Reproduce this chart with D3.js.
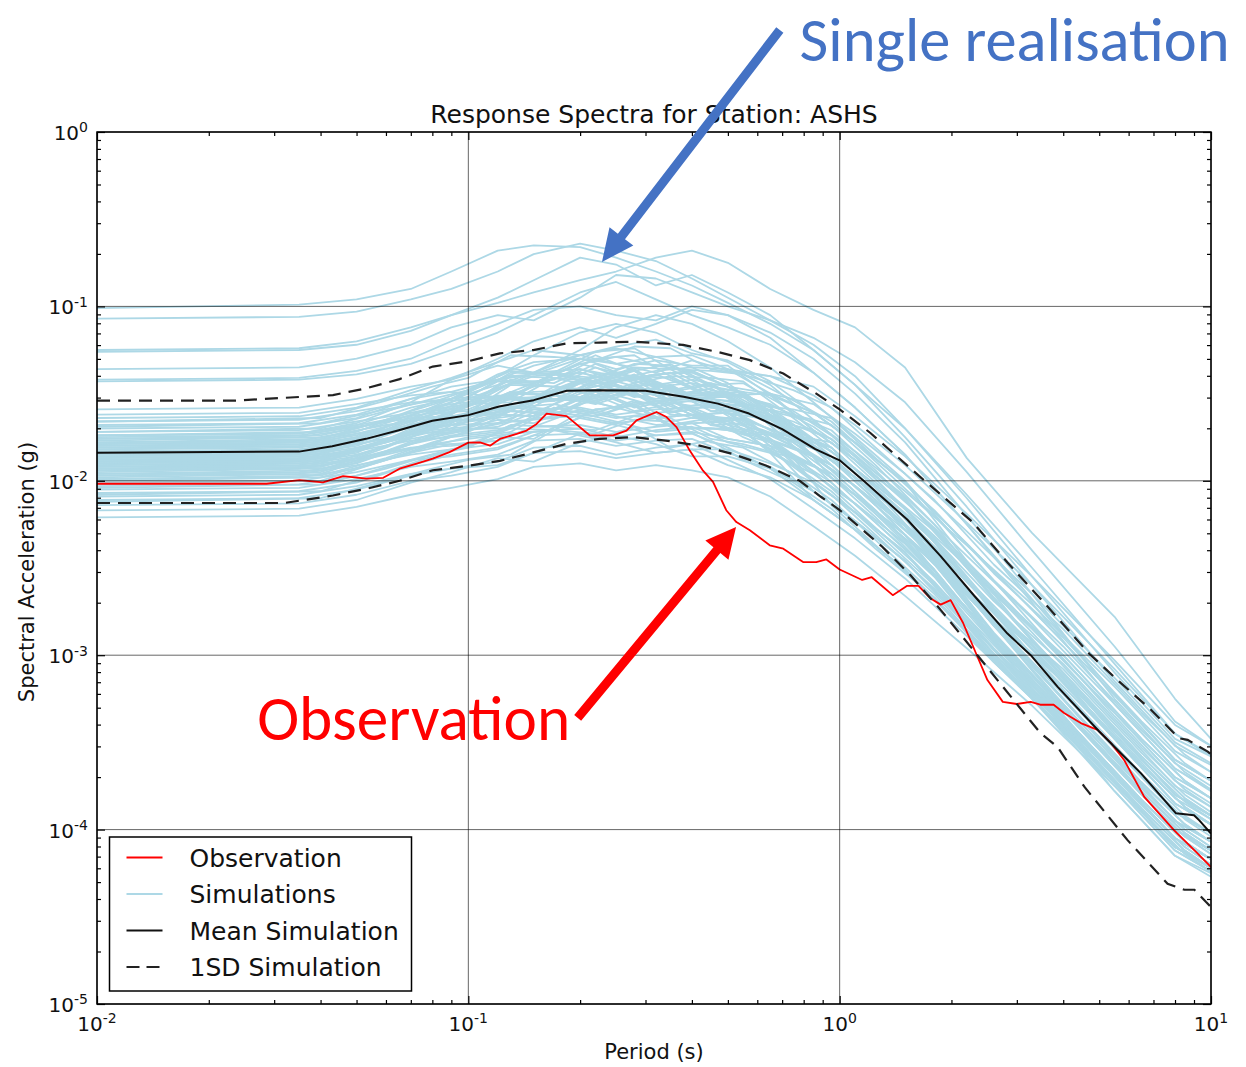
<!DOCTYPE html>
<html>
<head>
<meta charset="utf-8">
<script src="https://cdn.jsdelivr.net/npm/d3@7"></script>
<style>
  body { margin: 0; background: #fff; }
  svg { display: block; }
</style>
</head>
<body>
<div id="chart"></div>
<script>
// ---- data ----
// periods (s) for the first batch of simulation traces
const simPeriods = [0.01, 0.035, 0.05, 0.07, 0.09, 0.12, 0.15, 0.2, 0.25, 0.32, 0.4, 0.5, 0.65, 0.85, 1.1, 1.5, 2.2, 3.3, 5.5, 8, 10];

// simulated spectra, log10 of SA (g), one row per realisation
const simulationsLog10 = [
  [-1.01,-0.99,-0.96,-0.90,-0.80,-0.68,-0.65,-0.66,-0.72,-0.80,-0.88,-0.98,-1.10,-1.25,-1.45,-1.75,-2.15,-2.60,-3.15,-3.52,-3.63],
  [-1.07,-1.06,-1.03,-0.96,-0.90,-0.80,-0.70,-0.64,-0.68,-0.74,-0.84,-0.95,-1.08,-1.22,-1.40,-1.70,-2.10,-2.55,-3.10,-3.48,-3.58],
  [-1.25,-1.24,-1.20,-1.12,-1.05,-0.98,-0.92,-0.85,-0.80,-0.72,-0.68,-0.75,-0.90,-1.02,-1.12,-1.35,-1.87,-2.30,-2.78,-3.25,-3.48],
  [-1.26,-1.25,-1.22,-1.14,-1.05,-0.95,-0.85,-0.72,-0.76,-0.88,-0.82,-0.92,-1.05,-1.25,-1.45,-1.70,-2.08,-2.50,-3.05,-3.45,-3.58],
  [-1.36,-1.35,-1.30,-1.22,-1.12,-1.05,-1.08,-0.95,-0.82,-0.84,-0.92,-1.00,-1.08,-1.18,-1.32,-1.55,-1.95,-2.40,-2.95,-3.38,-3.52],
  [-1.42,-1.41,-1.37,-1.30,-1.20,-1.10,-1.02,-1.00,-1.05,-1.08,-1.00,-1.05,-1.15,-1.30,-1.50,-1.78,-2.20,-2.65,-3.25,-3.62,-3.75],
  [-1.43,-1.42,-1.39,-1.33,-1.25,-1.15,-1.05,-0.92,-0.86,-0.96,-1.05,-1.12,-1.22,-1.38,-1.58,-1.85,-2.25,-2.70,-3.28,-3.65,-3.78],
  [-1.89,-1.88,-1.83,-1.72,-1.62,-1.48,-1.38,-1.25,-1.12,-1.05,-1.10,-1.20,-1.35,-1.55,-1.75,-2.00,-2.40,-2.82,-3.35,-3.72,-3.85],
  [-1.74,-1.73,-1.67,-1.55,-1.42,-1.30,-1.20,-1.12,-1.18,-1.10,-1.02,-1.05,-1.18,-1.38,-1.58,-1.85,-2.25,-2.68,-3.22,-3.60,-3.72],
  [-1.84,-1.83,-1.77,-1.65,-1.55,-1.40,-1.28,-1.15,-1.10,-1.15,-1.25,-1.32,-1.45,-1.65,-1.85,-2.10,-2.50,-2.92,-3.45,-3.82,-3.94],
  [-1.59,-1.58,-1.53,-1.46,-1.42,-1.34,-1.38,-1.28,-1.24,-1.29,-1.35,-1.36,-1.40,-1.51,-1.68,-1.91,-2.24,-2.60,-3.08,-3.45,-3.57],
  [-1.62,-1.61,-1.56,-1.51,-1.49,-1.52,-1.44,-1.33,-1.38,-1.45,-1.42,-1.46,-1.60,-1.81,-1.98,-2.21,-2.64,-3.09,-3.63,-4.00,-4.12],
  [-1.64,-1.63,-1.58,-1.48,-1.41,-1.32,-1.25,-1.28,-1.23,-1.19,-1.27,-1.31,-1.43,-1.61,-1.78,-2.01,-2.36,-2.74,-3.23,-3.60,-3.72],
  [-1.66,-1.65,-1.60,-1.55,-1.54,-1.52,-1.53,-1.43,-1.38,-1.44,-1.51,-1.51,-1.68,-1.91,-2.08,-2.31,-2.74,-3.19,-3.73,-4.10,-4.22],
  [-1.68,-1.67,-1.62,-1.53,-1.49,-1.42,-1.39,-1.30,-1.33,-1.38,-1.31,-1.37,-1.40,-1.46,-1.63,-1.86,-2.19,-2.55,-3.03,-3.40,-3.52],
  [-1.70,-1.69,-1.64,-1.53,-1.46,-1.42,-1.34,-1.28,-1.33,-1.29,-1.28,-1.36,-1.50,-1.71,-1.88,-2.11,-2.50,-2.91,-3.43,-3.80,-3.92],
  [-1.72,-1.71,-1.66,-1.61,-1.59,-1.53,-1.54,-1.52,-1.43,-1.49,-1.52,-1.60,-1.63,-1.76,-1.93,-2.16,-2.49,-2.85,-3.33,-3.70,-3.82],
  [-1.74,-1.73,-1.68,-1.58,-1.53,-1.45,-1.38,-1.36,-1.42,-1.37,-1.35,-1.44,-1.62,-1.86,-2.03,-2.26,-2.69,-3.14,-3.68,-4.05,-4.17],
  [-1.75,-1.74,-1.69,-1.64,-1.63,-1.62,-1.63,-1.53,-1.49,-1.54,-1.57,-1.56,-1.60,-1.66,-1.83,-2.06,-2.37,-2.71,-3.18,-3.55,-3.67],
  [-1.76,-1.75,-1.70,-1.61,-1.56,-1.53,-1.46,-1.36,-1.40,-1.46,-1.44,-1.48,-1.51,-1.61,-1.78,-2.01,-2.46,-2.92,-3.48,-3.85,-3.97],
  [-1.78,-1.77,-1.72,-1.60,-1.53,-1.42,-1.44,-1.33,-1.29,-1.34,-1.37,-1.46,-1.58,-1.81,-1.98,-2.21,-2.70,-3.20,-3.78,-4.15,-4.27],
  [-1.79,-1.78,-1.73,-1.69,-1.68,-1.67,-1.59,-1.58,-1.62,-1.59,-1.58,-1.66,-1.78,-1.96,-2.13,-2.36,-2.73,-3.12,-3.63,-4.00,-4.12],
  [-1.80,-1.79,-1.74,-1.65,-1.59,-1.52,-1.49,-1.48,-1.43,-1.39,-1.47,-1.51,-1.50,-1.56,-1.73,-1.96,-2.29,-2.65,-3.13,-3.50,-3.62],
  [-1.81,-1.80,-1.75,-1.64,-1.57,-1.43,-1.44,-1.38,-1.43,-1.39,-1.38,-1.46,-1.58,-1.76,-1.93,-2.16,-2.57,-3.00,-3.53,-3.90,-4.02],
  [-1.82,-1.81,-1.76,-1.68,-1.64,-1.59,-1.61,-1.50,-1.45,-1.51,-1.58,-1.58,-1.76,-2.01,-2.18,-2.41,-2.82,-3.25,-3.78,-4.15,-4.25],
  [-1.83,-1.82,-1.77,-1.63,-1.53,-1.39,-1.32,-1.30,-1.36,-1.31,-1.34,-1.34,-1.51,-1.71,-1.88,-2.11,-2.48,-2.87,-3.38,-3.75,-3.87],
  [-1.84,-1.83,-1.78,-1.69,-1.64,-1.61,-1.54,-1.43,-1.48,-1.53,-1.52,-1.52,-1.65,-1.81,-1.98,-2.21,-2.56,-2.94,-3.43,-3.80,-3.92],
  [-1.85,-1.84,-1.79,-1.73,-1.72,-1.69,-1.61,-1.60,-1.64,-1.61,-1.59,-1.68,-1.74,-1.86,-2.03,-2.26,-2.71,-3.17,-3.73,-4.10,-4.22],
  [-1.86,-1.85,-1.80,-1.69,-1.61,-1.51,-1.53,-1.42,-1.38,-1.43,-1.51,-1.50,-1.56,-1.69,-1.86,-2.09,-2.43,-2.79,-3.28,-3.65,-3.77],
  [-1.87,-1.86,-1.81,-1.73,-1.68,-1.62,-1.55,-1.53,-1.58,-1.54,-1.53,-1.61,-1.80,-2.06,-2.23,-2.46,-2.81,-3.19,-3.68,-4.05,-4.17],
  [-1.88,-1.87,-1.82,-1.71,-1.64,-1.59,-1.52,-1.42,-1.46,-1.51,-1.50,-1.49,-1.62,-1.76,-1.93,-2.16,-2.57,-3.00,-3.53,-3.90,-4.02],
  [-1.89,-1.88,-1.83,-1.77,-1.75,-1.72,-1.64,-1.63,-1.67,-1.64,-1.62,-1.71,-1.78,-1.91,-2.08,-2.31,-2.64,-3.00,-3.48,-3.85,-3.97],
  [-1.90,-1.89,-1.84,-1.70,-1.60,-1.47,-1.40,-1.38,-1.43,-1.39,-1.37,-1.46,-1.50,-1.61,-1.78,-2.01,-2.36,-2.74,-3.23,-3.60,-3.72],
  [-1.91,-1.90,-1.85,-1.76,-1.72,-1.65,-1.67,-1.56,-1.51,-1.57,-1.64,-1.64,-1.84,-2.11,-2.28,-2.51,-2.87,-3.25,-3.75,-4.12,-4.24],
  [-1.92,-1.91,-1.86,-1.75,-1.67,-1.53,-1.54,-1.53,-1.48,-1.44,-1.52,-1.56,-1.65,-1.81,-1.98,-2.21,-2.62,-3.05,-3.58,-3.95,-4.07],
  [-1.93,-1.92,-1.87,-1.81,-1.80,-1.77,-1.69,-1.68,-1.72,-1.69,-1.67,-1.76,-1.80,-1.91,-2.08,-2.31,-2.62,-2.96,-3.43,-3.80,-3.92],
  [-1.94,-1.93,-1.88,-1.79,-1.74,-1.71,-1.64,-1.53,-1.58,-1.64,-1.62,-1.61,-1.65,-1.71,-1.88,-2.11,-2.46,-2.84,-3.33,-3.70,-3.82],
  [-1.96,-1.95,-1.90,-1.79,-1.72,-1.62,-1.63,-1.53,-1.48,-1.54,-1.62,-1.61,-1.78,-2.01,-2.18,-2.41,-2.80,-3.21,-3.73,-4.10,-4.22],
  [-1.97,-1.96,-1.91,-1.85,-1.82,-1.79,-1.72,-1.70,-1.75,-1.71,-1.69,-1.78,-1.84,-1.96,-2.13,-2.36,-2.73,-3.12,-3.63,-4.00,-4.12],
  [-1.99,-1.98,-1.93,-1.84,-1.79,-1.77,-1.69,-1.59,-1.63,-1.68,-1.67,-1.66,-1.73,-1.81,-1.98,-2.21,-2.58,-2.97,-3.48,-3.85,-3.97],
  [-2.01,-2.00,-1.95,-1.88,-1.86,-1.82,-1.74,-1.73,-1.77,-1.74,-1.73,-1.81,-1.93,-2.11,-2.28,-2.51,-2.86,-3.24,-3.73,-4.10,-4.22],
  [-2.03,-2.02,-1.97,-1.88,-1.82,-1.75,-1.76,-1.61,-1.66,-1.72,-1.70,-1.70,-1.77,-1.86,-2.03,-2.26,-2.65,-3.06,-3.58,-3.95,-4.07],
  [-2.05,-2.04,-1.99,-1.92,-1.89,-1.85,-1.77,-1.76,-1.80,-1.77,-1.76,-1.84,-1.92,-2.06,-2.23,-2.46,-2.83,-3.22,-3.73,-4.10,-4.22],
  [-2.07,-2.06,-2.01,-1.91,-1.85,-1.81,-1.74,-1.64,-1.68,-1.74,-1.72,-1.76,-1.80,-1.91,-2.08,-2.31,-2.66,-3.04,-3.53,-3.90,-4.02],
  [-2.09,-2.08,-2.03,-1.96,-1.93,-1.89,-1.81,-1.80,-1.85,-1.81,-1.79,-1.88,-1.99,-2.16,-2.33,-2.56,-2.89,-3.25,-3.73,-4.10,-4.22],
  [-2.11,-2.10,-2.05,-1.97,-1.93,-1.91,-1.84,-1.73,-1.78,-1.84,-1.82,-1.82,-1.90,-2.01,-2.18,-2.41,-2.78,-3.17,-3.68,-4.05,-4.17],
  [-2.14,-2.13,-2.08,-2.00,-1.97,-1.92,-1.84,-1.83,-1.87,-1.84,-1.82,-1.91,-1.98,-2.11,-2.28,-2.51,-2.86,-3.24,-3.73,-4.10,-4.22],
  [-2.17,-2.16,-2.11,-2.01,-1.95,-1.87,-1.89,-1.78,-1.74,-1.79,-1.86,-1.86,-1.93,-2.06,-2.23,-2.46,-2.81,-3.19,-3.68,-4.05,-4.17],
  [-2.21,-2.20,-2.15,-2.08,-2.04,-1.99,-1.92,-1.90,-1.94,-1.91,-1.94,-1.98,-2.09,-2.26,-2.43,-2.66,-2.96,-3.29,-3.75,-4.12,-4.24]
];

// second batch of traces (core of the band), sampled at other periods
const simPeriods2 = [0.01, 0.04, 0.06, 0.08, 0.1, 0.13, 0.17, 0.22, 0.28, 0.35, 0.45, 0.55, 0.75, 0.95, 1.25, 1.8, 2.6, 4.0, 6.5, 8.5, 10];
const simulationsLog10b = [
  [-1.72,-1.70,-1.60,-1.53,-1.48,-1.37,-1.39,-1.28,-1.37,-1.33,-1.45,-1.44,-1.60,-1.74,-1.97,-2.27,-2.63,-3.00,-3.48,-3.72,-3.82],
  [-1.76,-1.74,-1.66,-1.59,-1.56,-1.55,-1.41,-1.46,-1.39,-1.51,-1.47,-1.58,-1.66,-1.76,-1.99,-2.33,-2.73,-3.15,-3.63,-3.87,-3.97],
  [-1.79,-1.77,-1.67,-1.58,-1.52,-1.38,-1.39,-1.41,-1.33,-1.34,-1.46,-1.49,-1.70,-1.91,-2.14,-2.48,-2.88,-3.30,-3.78,-4.02,-4.12],
  [-1.82,-1.80,-1.71,-1.65,-1.61,-1.58,-1.56,-1.44,-1.42,-1.54,-1.55,-1.57,-1.71,-1.81,-2.04,-2.33,-2.69,-3.05,-3.53,-3.77,-3.87],
  [-1.86,-1.84,-1.73,-1.64,-1.57,-1.44,-1.46,-1.35,-1.44,-1.40,-1.52,-1.51,-1.62,-1.71,-1.94,-2.28,-2.68,-3.10,-3.58,-3.82,-3.92],
  [-1.89,-1.87,-1.78,-1.70,-1.66,-1.63,-1.49,-1.54,-1.47,-1.59,-1.55,-1.66,-1.80,-1.96,-2.19,-2.52,-2.91,-3.32,-3.80,-4.04,-4.14],
  [-1.92,-1.90,-1.77,-1.67,-1.57,-1.40,-1.41,-1.43,-1.35,-1.36,-1.48,-1.51,-1.68,-1.86,-2.09,-2.43,-2.83,-3.25,-3.73,-3.97,-4.07],
  [-1.94,-1.92,-1.83,-1.75,-1.71,-1.66,-1.64,-1.52,-1.50,-1.62,-1.63,-1.65,-1.75,-1.81,-2.04,-2.35,-2.73,-3.12,-3.60,-3.84,-3.94],
  [-1.97,-1.95,-1.83,-1.73,-1.64,-1.49,-1.51,-1.40,-1.49,-1.45,-1.57,-1.56,-1.76,-1.94,-2.17,-2.51,-2.92,-3.35,-3.83,-4.07,-4.17],
  [-2.00,-1.98,-1.88,-1.80,-1.75,-1.72,-1.58,-1.63,-1.56,-1.68,-1.64,-1.75,-1.87,-2.01,-2.24,-2.54,-2.91,-3.28,-3.76,-4.00,-4.10],
  [-1.74,-1.72,-1.65,-1.61,-1.60,-1.52,-1.53,-1.55,-1.47,-1.48,-1.60,-1.63,-1.78,-1.94,-2.17,-2.51,-2.92,-3.35,-3.83,-4.07,-4.17],
  [-1.78,-1.76,-1.65,-1.55,-1.48,-1.40,-1.38,-1.26,-1.24,-1.36,-1.37,-1.39,-1.54,-1.66,-1.89,-2.20,-2.57,-2.95,-3.43,-3.67,-3.77],
  [-1.84,-1.82,-1.71,-1.62,-1.55,-1.42,-1.44,-1.33,-1.42,-1.38,-1.50,-1.49,-1.74,-1.98,-2.21,-2.55,-2.97,-3.40,-3.88,-4.12,-4.22],
  [-1.88,-1.86,-1.78,-1.72,-1.70,-1.70,-1.56,-1.61,-1.54,-1.66,-1.62,-1.73,-1.74,-1.78,-2.01,-2.29,-2.65,-3.00,-3.48,-3.72,-3.82],
  [-1.91,-1.89,-1.78,-1.68,-1.61,-1.45,-1.46,-1.48,-1.40,-1.41,-1.53,-1.56,-1.62,-1.68,-1.91,-2.25,-2.67,-3.10,-3.58,-3.82,-3.92],
  [-1.95,-1.93,-1.85,-1.79,-1.76,-1.73,-1.71,-1.59,-1.57,-1.69,-1.70,-1.72,-1.91,-2.06,-2.29,-2.60,-2.99,-3.38,-3.86,-4.10,-4.20],
  [-1.98,-1.96,-1.84,-1.74,-1.66,-1.52,-1.54,-1.43,-1.52,-1.48,-1.60,-1.59,-1.68,-1.76,-1.99,-2.34,-2.76,-3.20,-3.68,-3.92,-4.02],
  [-2.02,-2.00,-1.88,-1.79,-1.71,-1.65,-1.51,-1.56,-1.49,-1.61,-1.57,-1.68,-1.78,-1.91,-2.14,-2.48,-2.88,-3.30,-3.78,-4.02,-4.12],
  [-2.04,-2.02,-1.93,-1.85,-1.81,-1.68,-1.69,-1.71,-1.63,-1.64,-1.76,-1.79,-1.87,-1.96,-2.19,-2.47,-2.81,-3.15,-3.63,-3.87,-3.97],
  [-2.08,-2.06,-1.95,-1.86,-1.80,-1.73,-1.71,-1.59,-1.57,-1.69,-1.70,-1.72,-1.92,-2.08,-2.31,-2.62,-3.01,-3.40,-3.88,-4.12,-4.22],
  [-1.69,-1.67,-1.59,-1.54,-1.52,-1.52,-1.38,-1.43,-1.36,-1.48,-1.44,-1.55,-1.70,-1.88,-2.11,-2.45,-2.87,-3.30,-3.78,-4.02,-4.12],
  [-1.81,-1.79,-1.72,-1.67,-1.65,-1.58,-1.60,-1.49,-1.58,-1.54,-1.66,-1.65,-1.85,-2.04,-2.27,-2.58,-2.96,-3.35,-3.83,-4.07,-4.17],
  [-1.87,-1.85,-1.73,-1.62,-1.53,-1.44,-1.42,-1.30,-1.28,-1.40,-1.41,-1.43,-1.64,-1.81,-2.04,-2.40,-2.83,-3.28,-3.76,-4.00,-4.10],
  [-1.93,-1.91,-1.84,-1.79,-1.79,-1.70,-1.71,-1.73,-1.65,-1.66,-1.78,-1.81,-1.96,-2.11,-2.34,-2.65,-3.02,-3.40,-3.88,-4.12,-4.22],
  [-1.96,-1.94,-1.81,-1.70,-1.61,-1.53,-1.39,-1.44,-1.37,-1.49,-1.45,-1.56,-1.59,-1.64,-1.87,-2.17,-2.53,-2.90,-3.38,-3.62,-3.72],
  [-1.80,-1.78,-1.69,-1.62,-1.59,-1.49,-1.51,-1.40,-1.49,-1.45,-1.57,-1.56,-1.72,-1.86,-2.09,-2.43,-2.83,-3.25,-3.73,-3.97,-4.07],
  [-1.85,-1.83,-1.76,-1.71,-1.69,-1.60,-1.61,-1.63,-1.55,-1.56,-1.68,-1.71,-1.81,-1.91,-2.14,-2.43,-2.79,-3.15,-3.63,-3.87,-3.97],
  [-1.90,-1.88,-1.77,-1.69,-1.62,-1.56,-1.54,-1.42,-1.40,-1.52,-1.53,-1.55,-1.80,-2.01,-2.24,-2.55,-2.93,-3.32,-3.80,-4.04,-4.14],
  [-1.99,-1.97,-1.87,-1.78,-1.72,-1.60,-1.62,-1.51,-1.60,-1.56,-1.68,-1.67,-1.77,-1.86,-2.09,-2.43,-2.83,-3.25,-3.73,-3.97,-4.07],
  [-2.12,-2.10,-2.00,-1.93,-1.88,-1.85,-1.71,-1.76,-1.69,-1.81,-1.77,-1.88,-2.01,-2.16,-2.39,-2.67,-3.03,-3.38,-3.86,-4.10,-4.20],
  [-1.66,-1.64,-1.54,-1.46,-1.41,-1.28,-1.29,-1.31,-1.23,-1.24,-1.36,-1.39,-1.48,-1.58,-1.81,-2.11,-2.48,-2.85,-3.33,-3.57,-3.67],
  [-1.84,-1.82,-1.73,-1.66,-1.62,-1.60,-1.46,-1.51,-1.44,-1.56,-1.52,-1.63,-1.87,-2.14,-2.37,-2.67,-3.04,-3.42,-3.90,-4.14,-4.24],
  [-1.94,-1.92,-1.80,-1.70,-1.62,-1.53,-1.51,-1.39,-1.37,-1.49,-1.50,-1.52,-1.72,-1.88,-2.11,-2.39,-2.74,-3.08,-3.56,-3.80,-3.90],
  [-1.77,-1.75,-1.68,-1.64,-1.63,-1.57,-1.59,-1.48,-1.57,-1.53,-1.65,-1.64,-1.76,-1.86,-2.09,-2.42,-2.81,-3.22,-3.70,-3.94,-4.04],
  [-1.89,-1.87,-1.77,-1.69,-1.64,-1.50,-1.51,-1.53,-1.45,-1.46,-1.58,-1.61,-1.72,-1.83,-2.06,-2.43,-2.88,-3.35,-3.83,-4.07,-4.17]
];

// observation (red)
const obsPeriods = [0.01, 0.0286, 0.0351, 0.0406, 0.046, 0.0531, 0.059, 0.0653, 0.0726, 0.0802, 0.089, 0.1, 0.1075, 0.1144, 0.1216, 0.135, 0.1435, 0.1527, 0.1625, 0.184, 0.2125, 0.2454, 0.2667, 0.2837, 0.3212, 0.3418, 0.3636, 0.3947, 0.4286, 0.456, 0.495, 0.527, 0.573, 0.648, 0.705, 0.797, 0.865, 0.921, 1.0, 1.15, 1.22, 1.39, 1.52, 1.63, 1.75, 1.87, 1.99, 2.15, 2.35, 2.5, 2.75, 3.0, 3.27, 3.47, 3.77, 4.02, 4.46, 4.95, 5.38, 5.84, 6.61, 7.96, 9.2, 10];
const obsSA = [0.00962, 0.00962, 0.0101, 0.0098, 0.01064, 0.0103, 0.0104, 0.01173, 0.01254, 0.0134, 0.0146, 0.01655, 0.01663, 0.0159, 0.01738, 0.01858, 0.0194, 0.0212, 0.0243, 0.0235, 0.0182, 0.0182, 0.0194, 0.0222, 0.0248, 0.0232, 0.0203, 0.0149, 0.01143, 0.00985, 0.00678, 0.0058, 0.0052, 0.00427, 0.00408, 0.00342, 0.00342, 0.00354, 0.0031, 0.0027, 0.0028, 0.00221, 0.0025, 0.0025, 0.00213, 0.00195, 0.00207, 0.00153, 0.00098, 0.00072, 0.00054, 0.000525, 0.00054, 0.00052, 0.00052, 0.000466, 0.000408, 0.000373, 0.000313, 0.00025, 0.000154, 0.000099, 0.000073, 0.000061];

// mean of simulations (black)
const meanPeriods = [0.01, 0.035, 0.043, 0.053, 0.065, 0.08, 0.1, 0.121, 0.15, 0.184, 0.226, 0.30, 0.38, 0.47, 0.57, 0.70, 0.86, 1.0, 1.16, 1.52, 1.87, 2.3, 2.83, 3.27, 3.86, 5.0, 6.48, 8.05, 9.0, 9.3, 10];
const meanSA = [0.0145, 0.0147, 0.0158, 0.0174, 0.0195, 0.0221, 0.0238, 0.0267, 0.0290, 0.0328, 0.0331, 0.0328, 0.0303, 0.0277, 0.0243, 0.0198, 0.0152, 0.0131, 0.0100, 0.0060, 0.0037, 0.0022, 0.00133, 0.0010, 0.00066, 0.000365, 0.00021, 0.000124, 0.000121, 0.000113, 0.000095];

// mean +/- 1 standard deviation (dashed)
const upperPeriods = [0.01, 0.0233, 0.0432, 0.0531, 0.0653, 0.0802, 0.1, 0.1216, 0.1496, 0.184, 0.226, 0.278, 0.379, 0.466, 0.573, 0.705, 0.865, 1.0, 1.21, 1.65, 2.28, 2.83, 3.63, 4.7, 5.6, 6.89, 8.2, 8.65, 9.8, 10];
const upperSA = [0.0288, 0.0288, 0.031, 0.0339, 0.0383, 0.0452, 0.0485, 0.0538, 0.0562, 0.0614, 0.062, 0.0628, 0.0601, 0.055, 0.0492, 0.0412, 0.0316, 0.0257, 0.0188, 0.0105, 0.0058, 0.0034, 0.0019, 0.00102, 0.00072, 0.000487, 0.000334, 0.000327, 0.00028, 0.00027];
const lowerPeriods = [0.01, 0.032, 0.0432, 0.0531, 0.0653, 0.0802, 0.1, 0.1216, 0.1496, 0.184, 0.226, 0.278, 0.34, 0.42, 0.516, 0.635, 0.78, 0.89, 1.0, 1.3, 1.55, 1.87, 2.35, 2.75, 3.47, 3.86, 4.57, 5.96, 7.64, 8.48, 9.02, 9.7, 10];
const lowerSA = [0.00746, 0.00746, 0.00824, 0.009, 0.01, 0.0115, 0.0122, 0.013, 0.01455, 0.0163, 0.0174, 0.0178, 0.017, 0.0159, 0.01425, 0.0122, 0.0100, 0.0081, 0.0068, 0.0042, 0.00288, 0.00182, 0.001, 0.00066, 0.000358, 0.000298, 0.000175, 0.000087, 0.0000489, 0.0000452, 0.0000452, 0.0000384, 0.000036];

const xTickExponents = [-2, -1, 0, 1];
const yTickExponents = [-5, -4, -3, -2, -1, 0];
const legendLabels = ["Observation", "Simulations", "Mean Simulation", "1SD Simulation"];

// ---- layout ----
const W = 1246, H = 1067;
const margin = {top: 132, right: 35, bottom: 63, left: 97},
    width = W - margin.left - margin.right,
    height = H - margin.top - margin.bottom;
const font = "'DejaVu Sans', sans-serif";
const calloutFont = "Carlito, Lato, 'Open Sans', sans-serif";

const svg = d3.select("#chart")
    .append("svg")
    .attr("width", W)
    .attr("height", H);
svg.append("rect").attr("width", W).attr("height", H).attr("fill", "#fff");

const g = svg.append("g")
    .attr("transform", `translate(${margin.left}, ${margin.top})`);

const x = d3.scaleLog().domain([1e-2, 1e1]).range([0, width]);
const y = d3.scaleLog().domain([1e-5, 1e0]).range([height, 0]);

g.append("clipPath").attr("id", "clip")
    .append("rect").attr("width", width).attr("height", height);
const plot = g.append("g").attr("clip-path", "url(#clip)");

const line = d3.line().x(d => x(d[0])).y(d => y(d[1]));
const pairs = (ts, vs) => ts.map((t, i) => [t, vs[i]]);
const simRows = simulationsLog10.map(r => ({periods: simPeriods, logs: r}))
    .concat(simulationsLog10b.map(r => ({periods: simPeriods2, logs: r})));

// simulations
plot.append("g")
    .selectAll("path")
    .data(simRows)
    .join("path")
    .attr("d", row => line(row.logs.map((v, i) => [row.periods[i], Math.pow(10, v)])))
    .attr("fill", "none")
    .attr("stroke", "#add8e6")
    .attr("stroke-width", 1.8)
    .attr("stroke-linejoin", "round");

// observation
plot.append("path")
    .attr("d", line(pairs(obsPeriods, obsSA)))
    .attr("fill", "none").attr("stroke", "#ff0000")
    .attr("stroke-width", 1.8).attr("stroke-linejoin", "round");

// mean
plot.append("path")
    .attr("d", line(pairs(meanPeriods, meanSA)))
    .attr("fill", "none").attr("stroke", "#111")
    .attr("stroke-width", 2).attr("stroke-linejoin", "round");

// +/- 1SD
[pairs(upperPeriods, upperSA), pairs(lowerPeriods, lowerSA)].forEach(pts => {
    plot.append("path")
        .attr("d", line(pts))
        .attr("fill", "none").attr("stroke", "#222")
        .attr("stroke-width", 2.2)
        .attr("stroke-dasharray", "13,8");
});

// grid (drawn over the lines, as in the original)
const grid = g.append("g").attr("stroke", "#000").attr("stroke-opacity", 0.6).attr("stroke-width", 1);
xTickExponents.forEach(e => {
    grid.append("line").attr("x1", x(10 ** e)).attr("x2", x(10 ** e)).attr("y1", 0).attr("y2", height);
});
yTickExponents.forEach(e => {
    grid.append("line").attr("x1", 0).attr("x2", width).attr("y1", y(10 ** e)).attr("y2", y(10 ** e));
});

// ticks on all four sides, pointing inwards
function logTicks(exps) {
    const major = exps.map(e => 10 ** e);
    const minor = [];
    exps.slice(0, -1).forEach(e => d3.range(2, 10).forEach(k => minor.push(k * 10 ** e)));
    return {major, minor};
}
const xt = logTicks(xTickExponents), yt = logTicks(yTickExponents);

function addAxis(axisFn, scale, ticks, transform) {
    [[ticks.major, -8], [ticks.minor, -4]].forEach(([vals, size]) => {
        const ax = g.append("g")
            .attr("transform", transform)
            .call(axisFn(scale).tickValues(vals).tickSize(size).tickFormat(""));
        ax.select(".domain").remove();
        ax.selectAll(".tick line").attr("stroke", "#000").attr("stroke-width", 1.2);
    });
}
addAxis(d3.axisBottom, x, xt, `translate(0, ${height})`);
addAxis(d3.axisTop, x, xt, "translate(0, 0)");
addAxis(d3.axisLeft, y, yt, "translate(0, 0)");
addAxis(d3.axisRight, y, yt, `translate(${width}, 0)`);

g.append("rect")
    .attr("width", width).attr("height", height)
    .attr("fill", "none").attr("stroke", "#000").attr("stroke-width", 1.5);

// tick labels 10^n
function powerLabel(sel, e) {
    sel.append("tspan").text("10");
    sel.append("tspan").attr("dy", "-0.55em").attr("font-size", "14px").text(e);
}
xTickExponents.forEach(e => {
    const t = g.append("text")
        .attr("x", x(10 ** e)).attr("y", height + 27)
        .attr("text-anchor", "middle")
        .attr("font-family", font).attr("font-size", "20px").attr("fill", "#111");
    powerLabel(t, e);
});
yTickExponents.forEach(e => {
    const t = g.append("text")
        .attr("x", -9).attr("y", y(10 ** e) + 8)
        .attr("text-anchor", "end")
        .attr("font-family", font).attr("font-size", "20px").attr("fill", "#111");
    powerLabel(t, e);
});

// title and axis labels
g.append("text")
    .attr("x", width / 2).attr("y", -9)
    .attr("text-anchor", "middle")
    .attr("font-family", font).attr("font-size", "25px").attr("fill", "#111")
    .text("Response Spectra for Station: ASHS");
g.append("text")
    .attr("x", width / 2).attr("y", height + 55)
    .attr("text-anchor", "middle")
    .attr("font-family", font).attr("font-size", "21px").attr("fill", "#111")
    .text("Period (s)");
g.append("text")
    .attr("transform", `translate(${-63}, ${height / 2 + 4}) rotate(-90)`)
    .attr("text-anchor", "middle")
    .attr("font-family", font).attr("font-size", "21px").attr("fill", "#111")
    .text("Spectral Acceleration (g)");

// legend
const legend = g.append("g").attr("transform", `translate(${12.5}, ${705})`);
legend.append("rect")
    .attr("width", 302).attr("height", 154)
    .attr("fill", "#fff").attr("stroke", "#000").attr("stroke-width", 1.5);
const legendStyles = [
    {stroke: "#ff0000", dash: null},
    {stroke: "#add8e6", dash: null},
    {stroke: "#111", dash: null},
    {stroke: "#222", dash: "13,7"}
];
legendLabels.forEach((label, i) => {
    const cy = 20.5 + i * 36.5;
    legend.append("line")
        .attr("x1", 17).attr("x2", 53).attr("y1", cy).attr("y2", cy)
        .attr("stroke", legendStyles[i].stroke).attr("stroke-width", 2)
        .attr("stroke-dasharray", legendStyles[i].dash);
    legend.append("text")
        .attr("x", 80).attr("y", cy + 9)
        .attr("font-family", font).attr("font-size", "25px").attr("fill", "#111")
        .text(label);
});

// ---- call-outs (positioned in data units) ----
function fitWidth(sel, target) {
    const w = sel.node().getComputedTextLength();
    sel.attr("font-size", (parseFloat(sel.attr("font-size")) * target / w).toFixed(1) + "px");
}
function arrow(from, to, color, shaft, headLen, headW) {
    const [x0, y0] = [x(from[0]), y(from[1])], [x1, y1] = [x(to[0]), y(to[1])];
    const len = Math.hypot(x1 - x0, y1 - y0);
    const ux = (x1 - x0) / len, uy = (y1 - y0) / len, px = -uy, py = ux;
    const bx = x1 - ux * headLen, by = y1 - uy * headLen;
    const pts = [
        [x0 + px * shaft / 2, y0 + py * shaft / 2],
        [bx + px * shaft / 2, by + py * shaft / 2],
        [bx + px * headW / 2, by + py * headW / 2],
        [x1, y1],
        [bx - px * headW / 2, by - py * headW / 2],
        [bx - px * shaft / 2, by - py * shaft / 2],
        [x0 - px * shaft / 2, y0 - py * shaft / 2]
    ];
    g.append("polygon").attr("points", pts.map(p => p.join(",")).join(" ")).attr("fill", color);
}

arrow([0.69, 3.85], [0.229, 0.18], "#4472c4", 9, 32, 30);
arrow([0.197, 4.37e-4], [0.526, 5.43e-3], "#ff0000", 9, 30, 30);

const single = g.append("text")
    .attr("x", x(0.78)).attr("y", y(2.55))
    .attr("font-family", calloutFont).attr("font-size", "60px").attr("fill", "#4472c4")
    .text("Single realisation");
fitWidth(single, 430);

const obsLabel = g.append("text")
    .attr("x", x(0.027)).attr("y", y(3.27e-4))
    .attr("font-family", calloutFont).attr("font-size", "60px").attr("fill", "#ff0000")
    .text("Observation");
fitWidth(obsLabel, 313);
</script>
</body>
</html>
